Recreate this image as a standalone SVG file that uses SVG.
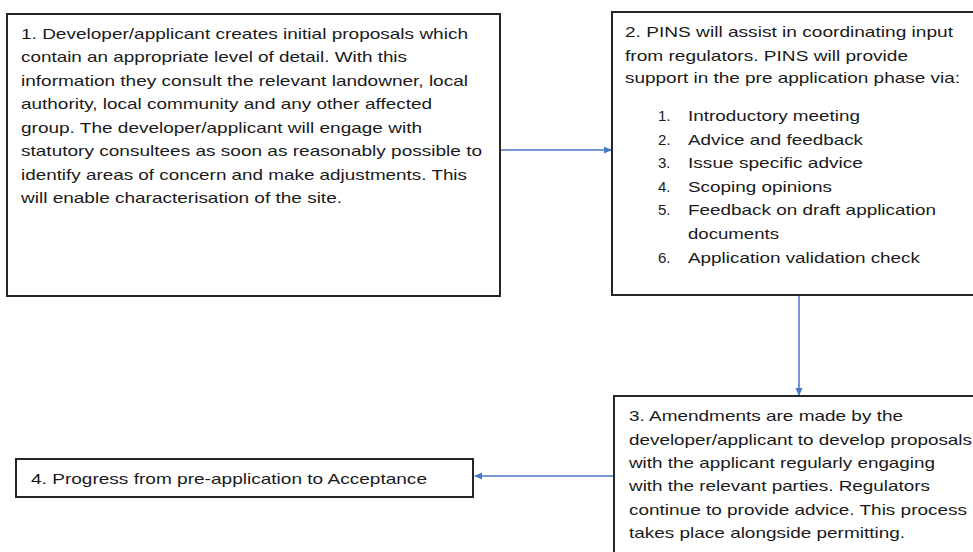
<svg xmlns="http://www.w3.org/2000/svg" width="973" height="552" viewBox="0 0 973 552">
<defs>
<style>
.box{fill:#ffffff;stroke:#262626;stroke-width:2}
text{font-family:"Liberation Sans",Arial,sans-serif;font-size:15px;fill:#1a1a1a}
.conn{stroke:#4a76c6;stroke-width:1.5;fill:none}
</style>
<marker id="ah" markerWidth="8" markerHeight="8" refX="7" refY="4" orient="auto" markerUnits="userSpaceOnUse">
<path d="M0,0.5 L8,4 L0,7.5 Z" fill="#4a76c6"/>
</marker>
</defs>
<rect width="973" height="552" fill="#ffffff"/>
<g id="connectors">
<line class="conn" x1="501" y1="150" x2="611" y2="150" marker-end="url(#ah)"/>
<line class="conn" x1="799" y1="296" x2="799" y2="395" marker-end="url(#ah)"/>
<line class="conn" x1="613" y1="476" x2="475" y2="476" marker-end="url(#ah)"/>
</g>
<g id="node1">
<rect class="box" x="7" y="14" width="493" height="282"/>
<text lengthAdjust="spacingAndGlyphs" x="21" y="38.5" textLength="447">1. Developer/applicant creates initial proposals which</text>
<text lengthAdjust="spacingAndGlyphs" x="21" y="62" textLength="386">contain an appropriate level of detail. With this</text>
<text lengthAdjust="spacingAndGlyphs" x="21" y="85.5" textLength="447">information they consult the relevant landowner, local</text>
<text lengthAdjust="spacingAndGlyphs" x="21" y="109" textLength="411">authority, local community and any other affected</text>
<text lengthAdjust="spacingAndGlyphs" x="21" y="132.5" textLength="401">group. The developer/applicant will engage with</text>
<text lengthAdjust="spacingAndGlyphs" x="21" y="156" textLength="461">statutory consultees as soon as reasonably possible to</text>
<text lengthAdjust="spacingAndGlyphs" x="21" y="179.5" textLength="446">identify areas of concern and make adjustments. This</text>
<text lengthAdjust="spacingAndGlyphs" x="21" y="203" textLength="321">will enable characterisation of the site.</text>
</g>
<g id="node2">
<rect class="box" x="612" y="12" width="380" height="283"/>
<text lengthAdjust="spacingAndGlyphs" x="625" y="37" textLength="328">2. PINS will assist in coordinating input</text>
<text lengthAdjust="spacingAndGlyphs" x="625" y="60.5" textLength="283">from regulators. PINS will provide</text>
<text lengthAdjust="spacingAndGlyphs" x="625" y="83" textLength="335">support in the pre application phase via:</text>
<text x="658" y="121">1.</text>
<text lengthAdjust="spacingAndGlyphs" x="688" y="121" textLength="172">Introductory meeting</text>
<text x="658" y="144.5">2.</text>
<text lengthAdjust="spacingAndGlyphs" x="688" y="144.5" textLength="175">Advice and feedback</text>
<text x="658" y="168">3.</text>
<text lengthAdjust="spacingAndGlyphs" x="688" y="168" textLength="175">Issue specific advice</text>
<text x="658" y="191.5">4.</text>
<text lengthAdjust="spacingAndGlyphs" x="688" y="191.5" textLength="144">Scoping opinions</text>
<text x="658" y="215">5.</text>
<text lengthAdjust="spacingAndGlyphs" x="688" y="215" textLength="248">Feedback on draft application</text>
<text lengthAdjust="spacingAndGlyphs" x="688" y="238.5" textLength="91">documents</text>
<text x="658" y="263">6.</text>
<text lengthAdjust="spacingAndGlyphs" x="688" y="263" textLength="232">Application validation check</text>
</g>
<g id="node3">
<rect class="box" x="614" y="396" width="380" height="180"/>
<text lengthAdjust="spacingAndGlyphs" x="629" y="421" textLength="274">3. Amendments are made by the</text>
<text lengthAdjust="spacingAndGlyphs" x="629" y="444.5" textLength="343">developer/applicant to develop proposals</text>
<text lengthAdjust="spacingAndGlyphs" x="629" y="467.5" textLength="306">with the applicant regularly engaging</text>
<text lengthAdjust="spacingAndGlyphs" x="629" y="491" textLength="301">with the relevant parties. Regulators</text>
<text lengthAdjust="spacingAndGlyphs" x="629" y="514.5" textLength="338">continue to provide advice. This process</text>
<text lengthAdjust="spacingAndGlyphs" x="629" y="538" textLength="276">takes place alongside permitting.</text>
</g>
<g id="node4">
<rect class="box" x="16" y="459" width="457" height="38"/>
<text lengthAdjust="spacingAndGlyphs" x="31" y="484" textLength="396">4. Progress from pre-application to Acceptance</text>
</g>
</svg>
